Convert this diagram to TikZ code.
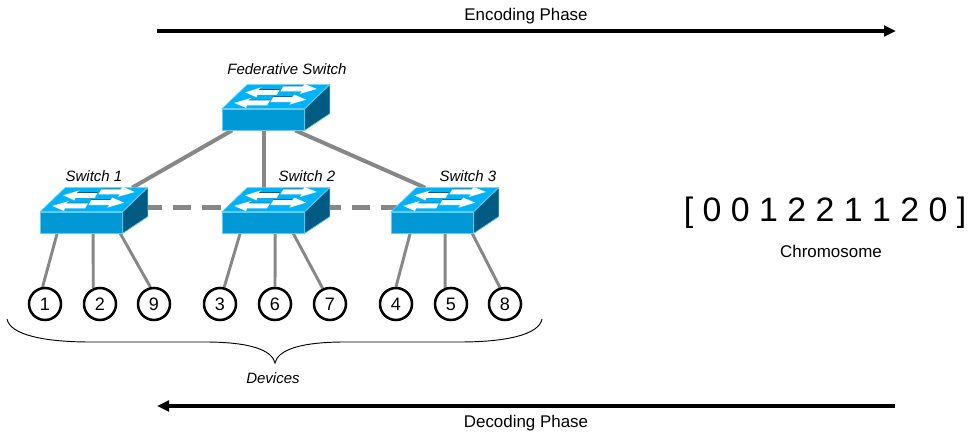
\documentclass[tikz,border=0pt]{standalone}
\usepackage{fontspec}
\setmainfont{Liberation Sans}
\usetikzlibrary{arrows.meta, positioning, calc, backgrounds}

\definecolor{swtop}{HTML}{00B2F8}
\definecolor{swfront}{HTML}{0099D5}
\definecolor{swside}{HTML}{005A82}
\definecolor{swedge}{HTML}{66CCF0}
\definecolor{linkgray}{HTML}{878787}

% Top and side faces of a switch, hung on its front face node
\newcommand{\drawswitch}[1]{
    \fill[swtop, draw=swedge, line width=0.5pt] (#1.north west) -- ++(25,-24) -- ++(82,0) -- (#1.north east) -- cycle;
    \fill[swside, draw=swedge, line width=0.5pt] (#1.north east) -- ++(25,-24) -- ++(0,29) -- (#1.south east) -- cycle;
    \begin{scope}[shift={(#1.north west)}]
        \foreach \tipx/\taily/\tailx in {23/-16.3/56, 94.7/-19.7/59.7, 12/-5.7/46.3, 84/-9/49.7} {
            \draw[black, line width=0.45pt] (\tailx+1.5,\taily-2.8) -- ($(\tipx,\taily-2.8)!0.42!(\tailx,\taily-2.8)$);
            \fill[white] (\tipx,\taily) -- ($(\tipx,\taily)!0.42!(\tailx,\taily)+(2.5,-5)$)
                -- ($(\tipx,\taily)!0.4!(\tailx,\taily)+(0,-2.5)$) -- (\tailx+1.5,\taily-2.5)
                -- (\tailx-1.5,\taily+2.5) -- ($(\tipx,\taily)!0.4!(\tailx,\taily)+(-1,2.5)$)
                -- ($(\tipx,\taily)!0.42!(\tailx,\taily)+(-2.5,5)$) -- cycle;
        }
    \end{scope}
}

\begin{document}
\begin{tikzpicture}[x=0.75pt, y=-0.75pt]
    % Styles
    \tikzstyle{switch} = [draw=swedge, fill=swfront, line width=0.5pt, inner sep=0, minimum width=61.5pt, minimum height=15.75pt]
    \tikzstyle{device} = [draw, circle, line width=1.9pt, fill=white, inner sep=0, minimum size=24pt, font=\fontsize{13.5}{14}\selectfont]
    \tikzstyle{swlabel} = [font=\fontsize{11.25}{13}\selectfont\itshape, inner sep=0]
    \tikzstyle{caption} = [font=\fontsize{12.7}{14}\selectfont, inner sep=0]
    \tikzstyle{link} = [linkgray, line width=3pt]
    \tikzstyle{trunk} = [linkgray, line width=3.75pt, dash pattern=on 14pt off 8pt]
    \tikzstyle{leaf} = [linkgray, line width=2.2pt]
    \tikzstyle{phase} = [-{Triangle[length=9pt, width=8pt]}, line width=2.6pt]

    \useasboundingbox (0,0) rectangle (968,434);

    % Phase arrows
    \coordinate (encstart) at (157,31);
    \coordinate (encend) at (896,31);
    \coordinate (decstart) at (895,406);
    \coordinate (decend) at (157,406);
    \draw[phase] (encstart) -- (encend);
    \draw[phase] (decstart) -- (decend);
    \node[caption] (enclabel) at (526,16) {Encoding Phase};
    \node[caption] (declabel) at (526,423) {Decoding Phase};

    % Switches - front faces
    \node[switch] (fedsw) at (263.5,119.5) {};
    \node[switch] (sw1) at (81.5,222.5) {};
    \node[switch] (sw2) at (263.5,222.5) {};
    \node[switch] (sw3) at (432.5,222.5) {};

    \node[swlabel] (fedlabel) at (287,69) {Federative Switch};
    \node[swlabel] (sw1label) at (94,176) {Switch 1};
    \node[swlabel] (sw2label) at (307,176) {Switch 2};
    \node[swlabel] (sw3label) at (468,176) {Switch 3};

    % Devices
    \foreach \name/\xpos in {1/45, 2/100, 9/154, 3/220, 6/275, 7/330, 4/396, 5/451, 8/505} {
        \node[device] (d\name) at (\xpos,304) {\name};
    }

    % Links, kept behind the switches
    \begin{scope}[on background layer]
        \draw[link] ($(fedsw.south west)+(10,0)$) -- ($(sw1.north west)+(92,-24)$);
        \draw[link] ($(fedsw.south west)+(42,0)$) -- ($(sw2.north west)+(42,-24)$);
        \draw[link] ($(fedsw.south west)+(73,0)$) -- ($(sw3.north west)+(34,-24)$);
        \draw[trunk] ($(sw1.north west)+(103,-4)$) -- ($(sw2.north west)+(8,-4)$);
        \draw[trunk] ($(sw2.north west)+(100,-4)$) -- ($(sw3.north west)+(8,-4)$);
        % device, where it leaves the switch, where it meets the circle
        \foreach \sw/\dev/\xoff/\ang in {sw1/d1/17/98, sw1/d2/53/113, sw1/d9/80/102,
                                         sw2/d3/18/76, sw2/d6/53/90, sw2/d7/71/115,
                                         sw3/d4/19/90, sw3/d5/54/110, sw3/d8/81/107} {
            \draw[leaf] ($(\sw.south west)+(\xoff,0)$) -- (\dev.\ang);
        }
    \end{scope}

    % Top and side faces
    \foreach \sw in {fedsw, sw1, sw2, sw3} {
        \drawswitch{\sw}
    }

    % Brace under the devices
    \coordinate (braceleft) at (7,319);
    \coordinate (braceright) at (542,319);
    \coordinate (bracetip) at (275,363);
    \draw[line width=0.7pt] (braceleft) .. controls (10,335) and (45,342) .. (90,342) -- (205,342)
        .. controls (250,342) and (272,350) .. (bracetip)
        .. controls (278,350) and (300,342) .. (345,342) -- (460,342)
        .. controls (505,342) and (539,335) .. (braceright);
    \node[swlabel] (devlabel) at (273,378) {Devices};

    % Chromosome
    \node[inner sep=0, font=\fontsize{25.4}{30}\selectfont] (chromo) at (825,212.5) {[ 0 0 1 2 2 1 1 2 0 ]};
    \node[caption] (chromolabel) at (831,251) {Chromosome};
\end{tikzpicture}
\end{document}
